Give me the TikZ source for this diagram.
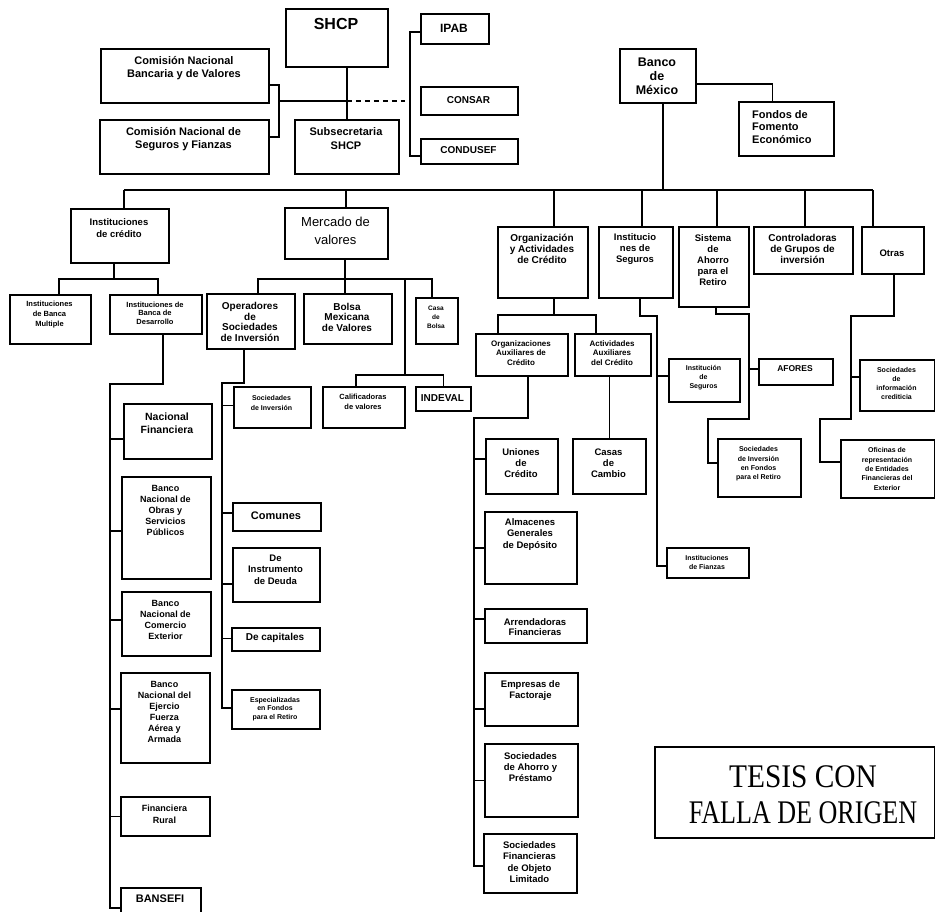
\documentclass[tikz,border=0pt]{standalone}
\usepackage{fontspec}
\setmainfont{Liberation Sans}
\newfontfamily\tesisfont{Liberation Serif}
\usepackage{graphicx}
\tikzset{
  bxs/.style={draw=black, line width=1.7pt, inner sep=0pt},
  txt/.style={align=center, inner sep=0pt, text=black},
  ln/.style={draw=black, line width=1.6pt},
}
\newcommand\bx[9]{%
  \node[bxs, minimum width={(#4-#2)*1pt}, minimum height={(#5-#3)*1pt}, anchor=north west] (#1) at (#2,#3) {};
  \node[txt, font=\bfseries\fontsize{#6}{#7}\selectfont] (#1-l) at ({(#2+#4)/2},#8) {#9};}
\begin{document}
\begin{tikzpicture}[x=1pt,y=-1pt]
\useasboundingbox[fill=white] (0,0) rectangle (935,911);
% ---------- top ----------
\bx{SHCP}{285}{8}{387}{66}{16}{18}{24}{SHCP}
\bx{IPAB}{420}{13}{488}{43}{12}{14}{28}{IPAB}
\bx{CONSAR}{420}{86}{517}{114}{10}{12}{100}{CONSAR}
\bx{CONDUSEF}{420}{138}{517}{163}{10}{12}{150}{CONDUSEF}
\bx{CNBV}{100}{48}{268}{102}{11}{12.5}{68}{Comisión Nacional\\Bancaria y de Valores}
\bx{CNSF}{99}{119}{268}{173}{11}{13}{139}{Comisión Nacional de\\Seguros y Fianzas}
\bx{Subsec}{294}{119}{398}{173}{11}{14}{139}{Subsecretaria\\SHCP}
\bx{BdM}{619}{48}{695}{102}{12.5}{14}{76}{Banco\\de\\México}
\node[bxs, minimum width=95pt, minimum height=54pt, anchor=north west] (Fondos) at (738,101) {};
\node[txt, align=left, anchor=west, font=\bfseries\fontsize{11}{12.5}\selectfont] (Fondos-l) at (752,127) {Fondos de\\Fomento\\Económico};
% ---------- level 2 ----------
\bx{IC}{70}{208}{168}{262}{9.5}{11.7}{228}{Instituciones\\de crédito}
\node[bxs, minimum width=103pt, minimum height=51pt, anchor=north west] (MV) at (284,207) {};
\node[txt, font=\fontsize{13}{17.5}\selectfont] (MV-l) at (335.5,231) {Mercado de\\valores};
\bx{OAC}{497}{226}{587}{297}{10}{11}{249}{Organización\\y Actividades\\de Crédito}
\bx{IS}{598}{226}{672}{297}{9.5}{11}{249}{Institucio\\nes de\\Seguros}
\bx{SAR}{678}{226}{748}{306}{9.5}{10.8}{260}{Sistema\\de\\Ahorro\\para el\\Retiro}
\bx{CG}{753}{226}{852}{273}{10}{11}{249}{Controladoras\\de Grupos de\\inversión}
\bx{OT}{861}{226}{923}{273}{9.5}{11}{253}{Otras}
% ---------- level 3 ----------
\bx{IBM}{9}{294}{90}{343}{7.5}{10}{315}{Instituciones\\de Banca\\Multiple}
\bx{IBD}{109}{294}{201}{333}{7.5}{8.6}{313}{Instituciones de\\Banca de\\Desarrollo}
\bx{Op}{206}{293}{294}{348}{10}{10.5}{322}{Operadores\\de\\Sociedades\\de Inversión}
\bx{BMV}{303}{293}{391}{343}{10}{10.5}{317}{Bolsa\\Mexicana\\de Valores}
\bx{CB}{415}{297}{457}{343}{6.5}{9}{317}{Casa\\de\\Bolsa}
\bx{SocInv}{233}{386}{310}{427}{7}{10}{403}{Sociedades\\de Inversión}
\bx{Calif}{322}{386}{404}{427}{7.5}{10}{402}{Calificadoras\\de valores}
\bx{INDEVAL}{415}{386}{470}{410}{10}{10}{398}{INDEVAL}
% banks
\bx{NF}{123}{403}{211}{458}{10.5}{13}{423.5}{Nacional\\Financiera}
\bx{BNOSP}{121}{476}{210}{578}{9}{11}{510}{Banco\\Nacional de\\Obras y\\Servicios\\Públicos}
\bx{BNCE}{121}{591}{210}{655}{9}{11}{619.5}{Banco\\Nacional de\\Comercio\\Exterior}
\bx{BNEFAA}{120}{672}{209}{762}{9}{11}{712}{Banco\\Nacional del\\Ejercio\\Fuerza\\Aérea y\\Armada}
\bx{FR}{120}{796}{209}{835}{9}{12}{814}{Financiera\\Rural}
\bx{BANSEFI}{120}{887}{200}{913}{11}{12}{899}{BANSEFI}
% sociedades de inversion
\bx{Comunes}{232}{502}{320}{530}{11}{12}{516}{Comunes}
\bx{DID}{232}{547}{319}{601}{9.5}{11.5}{569.5}{De\\Instrumento\\de Deuda}
\bx{DC}{231}{627}{319}{650}{10}{12}{638}{De capitales}
\bx{Esp}{231}{689}{319}{728}{7}{8.7}{709}{Especializadas\\en Fondos\\para el Retiro}
% organizaciones
\bx{OrgAux}{475}{333}{567}{375}{8}{9.2}{353}{Organizaciones\\Auxiliares de\\Crédito}
\bx{ActAux}{574}{333}{650}{375}{8}{9.2}{353}{Actividades\\Auxiliares\\del Crédito}
\bx{Uniones}{485}{438}{557}{493}{9.5}{11}{463}{Uniones\\de\\Crédito}
\bx{Casas}{572}{438}{645}{493}{9.5}{11}{463}{Casas\\de\\Cambio}
\bx{Alm}{484}{511}{576}{583}{9.5}{11.5}{534.5}{Almacenes\\Generales\\de Depósito}
\bx{Arr}{484}{608}{586}{642}{9.5}{10.5}{627}{Arrendadoras\\Financieras}
\bx{Emp}{484}{672}{577}{725}{9.5}{11}{690.5}{Empresas de\\Factoraje}
\bx{SAP}{484}{743}{577}{816}{9.5}{11}{767}{Sociedades\\de Ahorro y\\Préstamo}
\bx{SFOL}{483}{833}{576}{892}{9.5}{11.3}{862}{Sociedades\\Financieras\\de Objeto\\Limitado}
% seguros
\bx{InstSeg}{668}{358}{739}{401}{7}{9}{378}{Institución\\de\\Seguros}
\bx{Fianzas}{666}{547}{748}{577}{7}{9}{562.5}{Instituciones\\de Fianzas}
% SAR
\bx{AFORES}{758}{358}{832}{384}{8.5}{10}{369}{AFORES}
\bx{SIFR}{717}{438}{800}{496}{7}{9.3}{464}{Sociedades\\de Inversión\\en Fondos\\para el Retiro}
% otras
\bx{SIC}{859}{359}{934}{410}{7}{9}{383.5}{Sociedades\\de\\información\\crediticia}
\bx{Ofic}{840}{439}{934}{497}{7}{9.3}{469}{Oficinas de\\representación\\de Entidades\\Financieras del\\Exterior}
% TESIS
\node[bxs, line width=1.9pt, minimum width=280pt, minimum height=91pt, anchor=north west] (Tesis) at (654,746) {};
\node[txt, font=\tesisfont\fontsize{33}{36}\selectfont] (Tesis-l) at (803,795) {\scalebox{0.89}[1]{TESIS CON}\\\scalebox{0.79}[1]{FALLA DE ORIGEN}};
% ---------- junction coordinates ----------
\coordinate (busy) at (0,190);
\coordinate (y279) at (0,279);
\coordinate (y315) at (0,315);
\coordinate (y375) at (0,375);
\coordinate (cj) at (279,101);
\coordinate (dashend) at (405,101);
\coordinate (ipx) at (410,0);
\coordinate (spA) at (110,384);
\coordinate (spB) at (222,383);
\coordinate (spC) at (474,418);
\coordinate (spD) at (657,316);
\coordinate (spE) at (749,314);
\coordinate (jE) at (708,419);
\coordinate (spF) at (851,316);
\coordinate (jF) at (820,419);
\coordinate (cbr) at (405,279);
% ---------- connectors ----------
\draw[ln] (Subsec.north) -- (Subsec.north |- SHCP.south);
\draw[ln] ([yshift=-9]CNBV.east) -| (cj) |- ([yshift=10]CNSF.east);
\draw[ln] (cj) -- (cj -| Subsec.north);
\draw[ln, dashed, dash pattern=on 5pt off 4pt] (cj -| Subsec.north) -- (dashend);
\draw[ln] ([yshift=-3]IPAB.west) -- ([yshift=-3]IPAB.west -| ipx) |- ([yshift=-4.5]CONDUSEF.west);
\draw[ln] ([yshift=-8]BdM.east) -| ([xshift=-14]Fondos.north);
\draw[ln] ([xshift=5]BdM.south) -- ([xshift=5]BdM.south |- busy);
\draw[ln] ([xshift=4]IC.north |- busy) -- ([xshift=-20]OT.north |- busy);
\foreach \n/\s in {IC/4, MV/9.5, OAC/11, IS/6, SAR/3, CG/1.5, OT/-20}
  \draw[ln] ([xshift=\s]\n.north) -- ([xshift=\s]\n.north |- busy);
% instituciones de credito
\draw[ln] ([xshift=-6]IC.south) -- ([xshift=-6]IC.south |- y279);
\draw[ln] ([xshift=8.5]IBM.north) |- ([xshift=2]IBD.north |- y279) -- ([xshift=2]IBD.north);
\draw[ln] ([xshift=7]IBD.south) |- (spA) |- ([yshift=-7]BANSEFI.west);
\foreach \n/\s in {NF/-7.5, BNOSP/-3, BNCE/4, BNEFAA/9, FR/0}
  \draw[ln] ([yshift=\s]\n.west) -- ([yshift=\s]\n.west -| spA);
% mercado de valores
\draw[ln] ([xshift=8.5]MV.south) -- ([xshift=8.5]MV.south |- y279);
\draw[ln] ([xshift=7]Op.north) |- ([xshift=-5]CB.north |- y279) -- ([xshift=-5]CB.north);
\draw[ln] ([xshift=-3]BMV.north) -- ([xshift=-3]BMV.north |- y279);
\draw[ln] (cbr) -- (cbr |- y375);
\draw[ln] ([xshift=-8]Calif.north) |- (INDEVAL.north |- y375) -- (INDEVAL.north);
\draw[ln] ([xshift=-7]Op.south) |- (spB) |- ([yshift=1.5]Esp.west);
\foreach \n/\s in {SocInv/2, Comunes/4, DID/-9, DC/1}
  \draw[ln] ([yshift=\s]\n.west) -- ([yshift=\s]\n.west -| spB);
% organizacion
\draw[ln] ([xshift=11]OAC.south) -- ([xshift=11]OAC.south |- y315);
\draw[ln] ([xshift=-24]OrgAux.north) |- ([xshift=-17]ActAux.north |- y315) -- ([xshift=-17]ActAux.north);
\draw[ln] ([xshift=6]OrgAux.south) |- (spC) |- ([yshift=-2.5]SFOL.west);
\foreach \n/\s in {Uniones/7.5, Alm/0, Arr/7, Emp/-9.5, SAP/0}
  \draw[ln] ([yshift=\s]\n.west) -- ([yshift=\s]\n.west -| spC);
\draw[ln] (Casas.north |- ActAux.south) -- (Casas.north);
% seguros
\draw[ln] ([xshift=4]IS.south) |- (spD) |- ([yshift=-3]Fianzas.west);
\draw[ln] ([yshift=4.5]InstSeg.west) -- ([yshift=4.5]InstSeg.west -| spD);
% SAR
\draw[ln] ([xshift=2]SAR.south) |- (spE) |- (jE) |- ([yshift=5]SIFR.west);
\draw[ln] ([yshift=3]AFORES.west) -- ([yshift=3]AFORES.west -| spE);
% otras
\draw[ln] ([xshift=1]OT.south) |- (spF) |- (jF) |- ([yshift=7]Ofic.west);
\draw[ln] ([yshift=8.5]SIC.west) -- ([yshift=8.5]SIC.west -| spF);
\end{tikzpicture}
\end{document}
